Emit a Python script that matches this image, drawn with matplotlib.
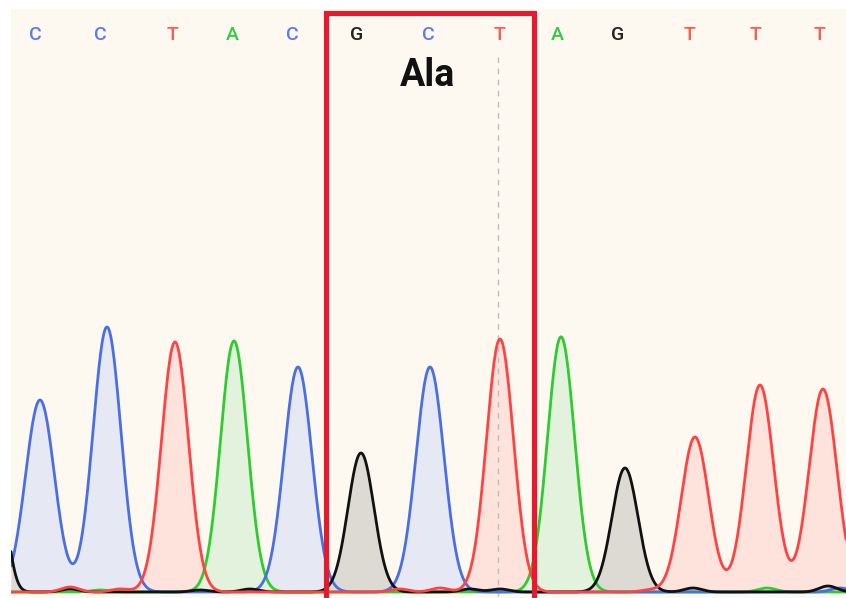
import numpy as np
import matplotlib.pyplot as plt
from matplotlib.patches import Rectangle

# base calls shown along the top
base_calls = ['C', 'C', 'T', 'A', 'C', 'G', 'C', 'T', 'A', 'G', 'T', 'T', 'T']
call_pos = [35, 100, 172, 232, 292, 357, 428, 499, 557, 618, 689, 755, 819]

# main peaks (scan position, height, width) for each called base
peak_pos = [40, 107, 175, 234, 298, 361, 430, 500, 561, 625, 695, 760, 823]
peak_height = [192, 265, 250, 251, 225, 139, 225, 253, 255, 124, 155, 207, 203]
peak_width = [14.5, 14, 13.5, 13.5, 14, 13, 14, 13.5, 13.5, 13, 13.8, 13.8, 14]

# leftover tail of the previous G peak at the left edge
tail_pos = [-2]
tail_height = [115]
tail_width = [9]

# small baseline bumps per channel (position, height)
noise_black = ([70, 200, 250, 470, 500, 693, 828], [3, 2, 3, 3, 3, 4, 6])
noise_red = ([70, 120, 400, 440, 650], [5, 3, 3, 4, 2])
noise_green = ([100, 580, 767], [2, 2, 4])
noise_blue = ([840], [4])

codon_start, codon_end = 325.5, 534
codon_label = 'Ala'
marker_pos = 498

line_colors = {'A': '#2fcc2f', 'C': '#4a6fe3', 'G': '#111111', 'T': '#ff4343'}
fill_colors = {'A': '#e3f2dc', 'C': '#e6e8f3', 'G': '#dddad4', 'T': '#fde3dc'}
text_colors = {'A': '#2ecc40', 'C': '#5b7cf0', 'G': '#222222', 'T': '#ff5a4a'}

x = np.linspace(11, 846, 1700)


def bumps(centers, heights, widths):
    y = np.zeros_like(x)
    for c, h, w in zip(centers, heights, widths):
        y += h * np.exp(-((x - c) ** 2) / (2 * w ** 2))
    return y


traces = {}
for base, noise in zip('ACGT', [noise_green, noise_blue, noise_black, noise_red]):
    idx = [i for i, b in enumerate(base_calls) if b == base]
    y = bumps([peak_pos[i] for i in idx], [peak_height[i] for i in idx],
              [peak_width[i] for i in idx])
    y += bumps(noise[0], noise[1], [9] * len(noise[0]))
    if base == 'G':
        y += bumps(tail_pos, tail_height, tail_width)
    traces[base] = y

fig = plt.figure(figsize=(8.46, 5.98), dpi=100)
ax = fig.add_axes([11 / 846, 0, 835 / 846, 589 / 598])
ax.set_facecolor('#fdf9f1')
ax.set_xlim(11, 846)
ax.set_ylim(-6, 583)
for s in ax.spines.values():
    s.set_visible(False)
ax.set_xticks([])
ax.set_yticks([])

for base in ['C', 'T', 'A', 'G']:
    ax.fill_between(x, 0, traces[base], color=fill_colors[base], lw=0, zorder=1)
for base in ['A', 'C', 'G', 'T']:
    ax.plot(x, traces[base], color=line_colors[base], lw=2, zorder=3,
            solid_capstyle='round')

for b, p in zip(base_calls, call_pos):
    ax.text(p, 557, b, color=text_colors[b], fontsize=14, family='Roboto',
            fontweight='medium', ha='center', va='center', zorder=5)

ax.plot([marker_pos, marker_pos], [535, -6], color='#bdbdbd', lw=1,
        dashes=(4, 4), zorder=2)

ax.add_patch(Rectangle((codon_start, -20), codon_end - codon_start, 599,
                       fill=False, edgecolor='#e8192c', lw=3.7, zorder=6))
ax.text(427, 516, codon_label, fontsize=27, fontweight='bold',
        family='Roboto', ha='center', va='center', color='#111111', zorder=6)

fig.savefig('out.png', dpi=100)
